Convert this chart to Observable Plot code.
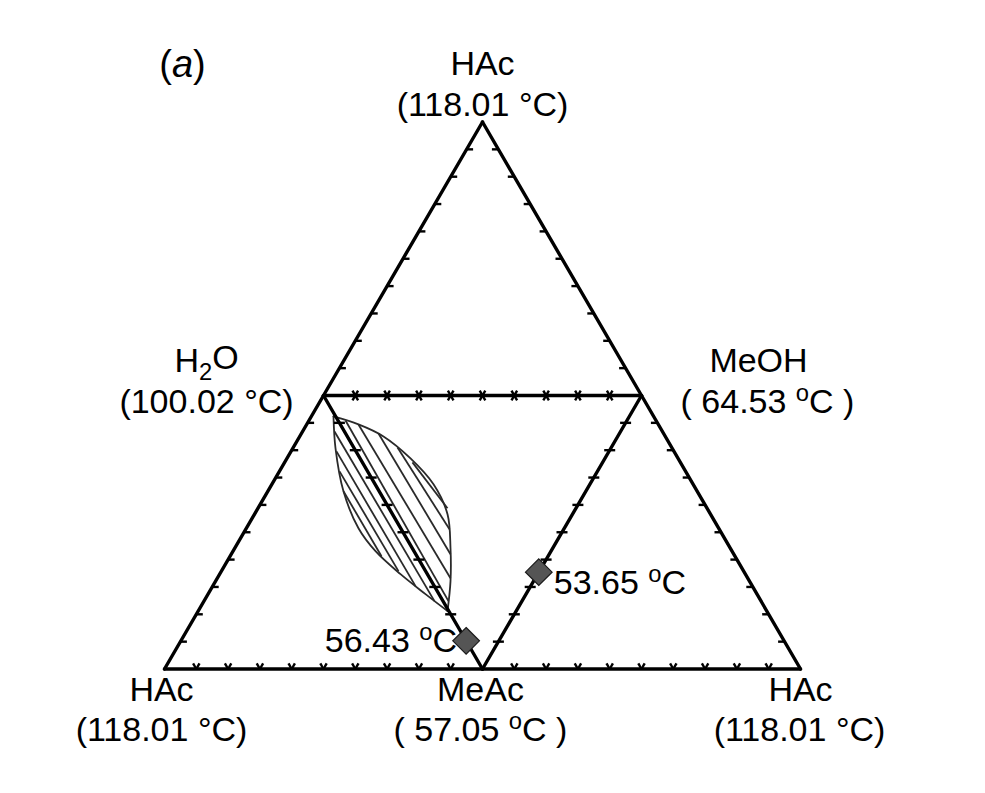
<!DOCTYPE html>
<html><head><meta charset="utf-8">
<script src="https://cdn.jsdelivr.net/npm/d3@7"></script>
<script src="https://cdn.jsdelivr.net/npm/@observablehq/plot@0.6"></script>
<style>body{margin:0;background:#fff} #chart svg{display:block;background:#fff}</style>
</head><body><div id="chart"></div>
<script>
// Unfolded tetrahedron vertices (unit-side triangle frame)
const vertexNames = ["HAc_top", "H2O", "MeOH", "HAc_left", "MeAc", "HAc_right"];
const vertexU = [0.5, 0.25, 0.75, 0, 0.5, 1];
const vertexV = [0.866, 0.433, 0.433, 0, 0, 0];

// Edges: from, to, kind
const edgeFrom = ["HAc_top", "H2O", "HAc_top", "MeOH", "HAc_left", "MeAc", "H2O", "H2O", "MeOH"];
const edgeTo   = ["H2O", "HAc_left", "MeOH", "HAc_right", "MeAc", "HAc_right", "MeOH", "MeAc", "MeAc"];
const edgeKind = ["left", "left", "right", "right", "bottom", "bottom", "innerH", "innerD", "innerD"];
const tickFractions = [0.1, 0.2, 0.3, 0.4, 0.5, 0.6, 0.7, 0.8, 0.9];

// Vertex labels
const labelVertex = ["HAc_top", "HAc_top", "H2O", "H2O", "MeOH", "MeOH", "HAc_left", "HAc_left", "MeAc", "MeAc", "HAc_right", "HAc_right"];
const labelText = ["HAc", "(118.01 °C)", "H2O", "(100.02 °C)", "MeOH", "( 64.53 °C )", "HAc", "(118.01 °C)", "MeAc", "( 57.05 °C )", "HAc", "(118.01 °C)"];

// Azeotropes (fraction along edge)
const azeoFrom = ["MeAc", "MeAc"];
const azeoTo = ["MeOH", "H2O"];
const azeoFrac = [0.354, 0.103];
const azeoLabel = ["53.65 °C", "56.43 °C"];

// LLE binodal (two faces sharing H2O–MeAc edge)
const binodalLeftU  = [0.2657, 0.2689, 0.2814, 0.3050, 0.3318, 0.3711, 0.4104, 0.4450];
const binodalLeftV  = [0.3998, 0.3492, 0.2813, 0.2228, 0.1865, 0.1501, 0.1185, 0.0917];
const binodalRightU = [0.2657, 0.3050, 0.3443, 0.3868, 0.4230, 0.4450, 0.4497, 0.4497, 0.4450];
const binodalRightV = [0.3998, 0.3872, 0.3682, 0.3334, 0.2924, 0.2449, 0.1912, 0.1391, 0.0917];

// Tie lines
const tieU1 = [0.2846, 0.3050, 0.3365, 0.3664, 0.3899, 0.2673, 0.2704, 0.2752, 0.2814];
const tieV1 = [0.3935, 0.3872, 0.3729, 0.3508, 0.3271, 0.3761, 0.3445, 0.3129, 0.2813];
const tieU2 = [0.4465, 0.4497, 0.4497, 0.4481, 0.4450, 0.4245, 0.3947, 0.3679, 0.3412];
const tieV2 = [0.1075, 0.1438, 0.1817, 0.2212, 0.2544, 0.1075, 0.1312, 0.1549, 0.1786];

// ---- build tables ----
const U0 = 164, U1 = 800, V0 = 668.5, V1 = 121.5;
const pxU = (U1 - U0) / 1, pxV = (V0 - V1) / 0.866;
const vtx = Object.fromEntries(vertexNames.map((n, i) => [n, {u: vertexU[i], v: vertexV[i]}]));

const edges = edgeFrom.map((f, i) => ({x1: vtx[f].u, y1: vtx[f].v, x2: vtx[edgeTo[i]].u, y2: vtx[edgeTo[i]].v, kind: edgeKind[i]}));

const shapes = {
  left:   [[[0, 0], [6.5, 0]]],
  right:  [[[0, 0], [-6.5, 0]]],
  bottom: [[[0, 0], [3.2, -5.6]], [[0, 0], [-3.2, -5.6]]],
  innerH: [[[-2.8, -4.8], [2.8, 4.8]], [[2.8, -4.8], [-2.8, 4.8]]],
  innerD: [[[-5.5, 0], [5.5, 0]]]
};
const ticks = [];
for (const e of edges) {
  for (const f of tickFractions) {
    const u = e.x1 + f * (e.x2 - e.x1), v = e.y1 + f * (e.y2 - e.y1);
    for (const [[a, b], [c, d]] of shapes[e.kind]) {
      ticks.push({x1: u + a / pxU, y1: v - b / pxV, x2: u + c / pxU, y2: v - d / pxV});
    }
  }
}

const labelOffsets = {
  HAc_top: [[0, -58], [0, -17]],
  H2O: [[-117, -34], [-117, 7]],
  MeOH: [[117, -34], [126, 7]],
  HAc_left: [[-3, 21], [-3, 61]],
  MeAc: [[-2, 21], [-2, 61]],
  HAc_right: [[0, 21], [-1, 61]]
};
const lineIdx = {};
const labels = labelVertex.map((n, i) => {
  const k = lineIdx[n] = (lineIdx[n] ?? -1) + 1;
  return {x: vtx[n].u, y: vtx[n].v, text: labelText[i], dx: labelOffsets[n][k][0], dy: labelOffsets[n][k][1]};
});

const azeo = azeoFrom.map((f, i) => ({
  x: vtx[f].u + azeoFrac[i] * (vtx[azeoTo[i]].u - vtx[f].u),
  y: vtx[f].v + azeoFrac[i] * (vtx[azeoTo[i]].v - vtx[f].v),
  label: azeoLabel[i]
}));

const binodal = [
  ...binodalLeftU.map((u, i) => ({u, v: binodalLeftV[i], side: "L"})),
  ...binodalRightU.map((u, i) => ({u, v: binodalRightV[i], side: "R"}))
];
const ties = tieU1.map((u, i) => ({x1: u, y1: tieV1[i], x2: tieU2[i], y2: tieV2[i]}));

const font = {fontFamily: "Liberation Sans, Arial, Helvetica, sans-serif", fontSize: 34, fill: "black"};

const chart = Plot.plot({
  width: 985, height: 793, margin: 0,
  style: {background: "white"},
  x: {domain: [0, 1], range: [U0, U1], axis: null},
  y: {domain: [0, 0.866], range: [V0, V1], axis: null},
  marks: [
    Plot.line(binodal, {x: "u", y: "v", z: "side", curve: "catmull-rom", stroke: "#2a2a2a", strokeWidth: 1.8}),
    Plot.link(ties, {x1: "x1", y1: "y1", x2: "x2", y2: "y2", stroke: "#2a2a2a", strokeWidth: 1.8}),
    Plot.link(edges, {x1: "x1", y1: "y1", x2: "x2", y2: "y2", stroke: "black", strokeWidth: 3.4, strokeLinecap: "round"}),
    Plot.link(ticks, {x1: "x1", y1: "y1", x2: "x2", y2: "y2", stroke: "black", strokeWidth: 2.4}),
    Plot.dot(azeo, {x: "x", y: "y", symbol: "diamond2", r: 12, fill: "#555", stroke: "#1a1a1a", strokeWidth: 1.2}),
    Plot.text(azeo.slice(0, 1), {x: "x", y: "y", text: "label", textAnchor: "start", dx: 15, dy: 11, ...font}),
    Plot.text(azeo.slice(1, 2), {x: "x", y: "y", text: "label", textAnchor: "end", dx: -9, dy: 0, ...font}),
    ...labels.map(d => Plot.text([d], {x: "x", y: "y", text: "text", dx: d.dx, dy: d.dy, ...font})),
    Plot.text(["(a)"], {frameAnchor: "top-left", text: d => d, dx: 182, dy: 50, textAnchor: "middle", ...font, fontSize: 38})
  ]
});

// rich text: subscript, italic, superscript degree "o"
const supLabels = new Set(["( 64.53 °C )", "( 57.05 °C )", "53.65 °C", "56.43 °C"]);
d3.select(chart).selectAll("text").each(function () {
  const t = this.textContent;
  const sel = d3.select(this);
  if (t === "H2O") {
    sel.text("");
    sel.append("tspan").text("H");
    sel.append("tspan").attr("font-size", "70%").attr("dy", "0.3em").text("2");
    sel.append("tspan").attr("dy", "-0.3em").text("O");
  } else if (t === "(a)") {
    sel.text("");
    sel.append("tspan").text("(");
    sel.append("tspan").attr("font-style", "italic").text("a");
    sel.append("tspan").text(")");
  } else if (supLabels.has(t)) {
    const [pre, post] = t.split("°");
    sel.text("");
    sel.append("tspan").text(pre);
    sel.append("tspan").attr("font-size", "70%").attr("dy", "-0.5em").text("o");
    sel.append("tspan").attr("dy", "0.35em").text(post);
  }
});
document.getElementById("chart").append(chart);
</script>
</body></html>
